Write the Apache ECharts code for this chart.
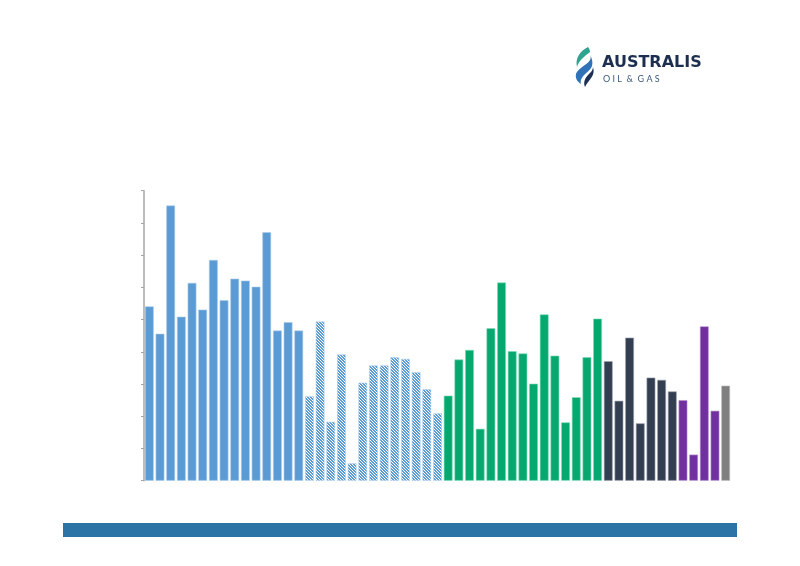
<!DOCTYPE html>
<html>
<head>
<meta charset="utf-8">
<script src="https://cdn.jsdelivr.net/npm/echarts@6/dist/echarts.min.js"></script>
<style>
html,body{margin:0;padding:0;background:#fff;}
#chart{width:800px;height:566px;}
</style>
</head>
<body>
<div id="chart"></div>
<script>
// ---- data ----
var categories = ['1','2','3','4','5','6','7','8','9','10','11','12','13','14','15','16','17','18','19','20','21','22','23','24','25','26','27','28','29','30','31','32','33','34','35','36','37','38','39','40','41','42','43','44','45','46','47','48','49','50','51','52','53','54','55'];
var blueSolid = [5.41, 4.56, 8.54, 5.09, 6.14, 5.31, 6.85, 5.60, 6.27, 6.21, 6.02, 7.71, 4.66, 4.92, 4.66];
var blueHatched = [2.62, 4.94, 1.83, 3.92, 0.54, 3.04, 3.58, 3.58, 3.83, 3.78, 3.37, 2.84, 2.09];
var greenVals = [2.64, 3.76, 4.06, 1.61, 4.73, 6.15, 4.02, 3.95, 3.01, 5.16, 3.88, 1.81, 2.59, 3.83, 5.03];
var navyVals = [3.71, 2.48, 4.44, 1.78, 3.20, 3.13, 2.77];
var purpleVals = [2.50, 0.81, 4.79, 2.17];
var greyVals = [2.95];
var yTicks = [0, 1, 2, 3, 4, 5, 6, 7, 8, 9];

// ---- build ----
var groups = [
  {name: 'A', vals: blueSolid, color: '#5B9BD5', border: '#A9CBEA'},
  {name: 'B', vals: blueHatched, color: 'hatch', border: '#B4D2EE'},
  {name: 'C', vals: greenVals, color: '#05A86E', border: '#7FDDB9'},
  {name: 'D', vals: navyVals, color: '#333F50', border: '#9AA3B0'},
  {name: 'E', vals: purpleVals, color: '#7030A0', border: '#B895D2'},
  {name: 'F', vals: greyVals, color: '#7F7F7F', border: '#BFBFBF'}
];

function makeHatch() {
  var n = 3;
  var c = document.createElement('canvas');
  c.width = n; c.height = n;
  var ctx = c.getContext('2d');
  ctx.fillStyle = '#ffffff';
  ctx.fillRect(0, 0, n, n);
  ctx.fillStyle = '#5B9BD5';
  for (var i = 0; i < n; i++) {
    ctx.fillRect(i, i, 1, 1);
    ctx.fillRect((i + 1) % n, i, 1, 1);
  }
  return c;
}
var hatchCanvas = makeHatch();

// custom logo shape: list of commands
var Curvy = echarts.graphic.extendShape({
  shape: {cmds: []},
  buildPath: function (ctx, shape) {
    shape.cmds.forEach(function (c) {
      if (c[0] === 'M') ctx.moveTo(c[1], c[2]);
      else if (c[0] === 'C') ctx.bezierCurveTo(c[1], c[2], c[3], c[4], c[5], c[6]);
      else if (c[0] === 'Z') ctx.closePath();
    });
  }
});
echarts.graphic.registerShape('curvy', Curvy);

var series = [];
var offset = 0;
groups.forEach(function (g) {
  var data = categories.map(function () { return '-'; });
  g.vals.forEach(function (v, i) { data[offset + i] = v; });
  offset += g.vals.length;
  series.push({
    name: g.name,
    type: 'bar',
    stack: 'all',
    barCategoryGap: '18%',
    data: data,
    silent: true,
    itemStyle: {
      color: g.color === 'hatch' ? {image: hatchCanvas, repeat: 'repeat'} : g.color,
      borderColor: g.border,
      borderWidth: 0.6
    }
  });
});

var chart = echarts.init(document.getElementById('chart'), null, {renderer: 'canvas'});
chart.setOption({
  animation: false,
  backgroundColor: '#ffffff',
  grid: {left: 144, top: 190.7, width: 587, height: 290},
  xAxis: {
    type: 'category',
    data: categories,
    axisLine: {show: false},
    axisTick: {show: false},
    axisLabel: {show: false}
  },
  yAxis: {
    type: 'value',
    min: yTicks[0],
    max: yTicks[yTicks.length - 1],
    interval: 1,
    axisLine: {show: true, lineStyle: {color: '#A6A6A6', width: 1.5}},
    axisTick: {show: true, length: 3, lineStyle: {color: '#A6A6A6', width: 1}},
    axisLabel: {show: false},
    splitLine: {show: false}
  },
  series: series,
  graphic: [
    {type: 'rect', shape: {x: 63, y: 523, width: 674, height: 14}, style: {fill: '#2C74A5'}},
    {type: 'curvy', shape: {cmds: [['M',588,47],['C',580,51,575,58,577,67],['C',579,60,585,56,590,52],['C',590,50,589,48,588,47],['Z']]}, style: {fill: '#2FA58F'}},
    {type: 'curvy', shape: {cmds: [['M',590,55],['C',594,63,579,66,576,74],['C',575,79,578,82,581,84],['C',579,76,590,72,592,66],['C',593,62,592,58,590,55],['Z']]}, style: {fill: '#2F72B8'}},
    {type: 'curvy', shape: {cmds: [['M',593,67],['C',596,76,588,80,585,87],['C',583,82,585,78,589,74],['C',591,72,593,70,593,67],['Z']]}, style: {fill: '#1E2F55'}},
    {type: 'text', style: {x: 602, y: 55, text: 'AUSTRALIS', fill: '#1D2F50', font: 'bold 16px "DejaVu Sans"', textVerticalAlign: 'top'}},
    {type: 'text', style: {x: 603, y: 75, text: 'O I L  &  G A S', fill: '#3D5A80', font: '9px Lato', textVerticalAlign: 'top'}}
  ]
});
</script>
</body>
</html>
